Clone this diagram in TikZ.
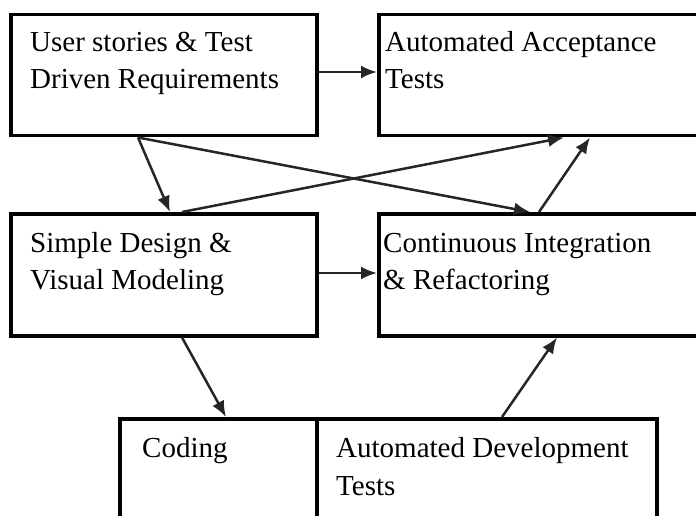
\documentclass[tikz,border=0pt]{standalone}
\usepackage{fontspec}
\setmainfont{Liberation Serif}
\usetikzlibrary{arrows.meta}
\begin{document}
\begin{tikzpicture}[x=1pt,y=-1pt,
  box/.style={draw=black,line width=3.5pt,rectangle,inner sep=0pt,anchor=north west},
  txt/.style={anchor=base west,inner sep=0pt,font=\fontsize{29}{37}\selectfont},
  arr/.style={draw=black!85,line width=2.5pt,-{Latex[length=16pt,width=13pt]}}]
\useasboundingbox (0,0) rectangle (696,516);
\clip (0,0) rectangle (696,516);
% boxes
\node[box,minimum width=306pt,minimum height=121pt] (b1) at (9,13) {};
\node[box,minimum width=340pt,minimum height=121pt] (b2) at (377,13) {};
\node[box,minimum width=306pt,minimum height=122pt] (b3) at (9,212) {};
\node[box,minimum width=340pt,minimum height=122pt] (b4) at (377,212) {};
\node[box,minimum width=197pt,minimum height=120pt] (b5) at (118,417) {};
\node[box,minimum width=340pt,minimum height=120pt] (b6) at (315,417) {};
% texts
\node[txt] (t1a) at (30,52) {User stories \& Test};
\node[txt] (t1b) at (30,89) {Driven Requirements};
\node[txt] (t2a) at (385,52) {Automated Acceptance};
\node[txt] (t2b) at (385,89) {Tests};
\node[txt] (t3a) at (30,252) {Simple Design \&};
\node[txt] (t3b) at (30,289) {Visual Modeling};
\node[txt] (t4a) at (383,252) {Continuous Integration};
\node[txt] (t4b) at (383,289) {\& Refactoring};
\node[txt] (t5a) at (142,457) {Coding};
\node[txt] (t6a) at (336,457) {Automated Development};
\node[txt] (t6b) at (336,495) {Tests};
% connectors
\draw[arr] ([yshift=-59pt]b1.north east) -- ([yshift=-59pt]b2.north west);
\draw[arr] ([xshift=129pt]b1.south west) -- ([xshift=161pt]b3.north west);
\draw[arr] ([xshift=129pt]b1.south west) -- ([xshift=153pt]b4.north west);
\draw[arr] ([xshift=173pt]b3.north west) -- ([xshift=187pt]b2.south west);
\draw[arr] ([xshift=162pt]b4.north west) -- ([xshift=213pt]b2.south west);
\draw[arr] ([yshift=-61pt]b3.north east) -- ([yshift=-61pt]b4.north west);
\draw[arr] ([xshift=173pt]b3.south west) -- ([xshift=108pt]b5.north west);
\draw[arr] ([xshift=187pt]b6.north west) -- ([xshift=180pt]b4.south west);
\end{tikzpicture}
\end{document}
